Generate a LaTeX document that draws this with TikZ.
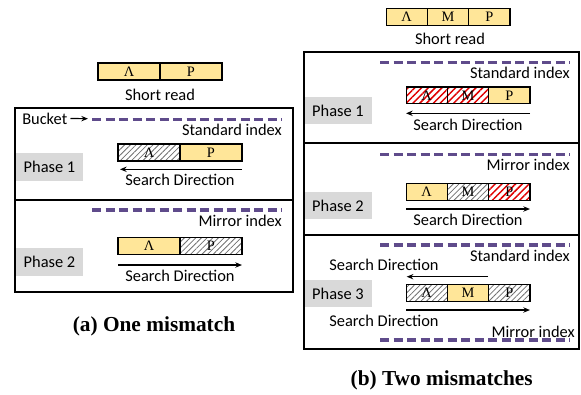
\documentclass[tikz,border=0pt]{standalone}
\usepackage{fontspec}
\setmainfont{Liberation Serif}
\newfontfamily\calib{Carlito}
\usetikzlibrary{patterns.meta,arrows.meta}
\definecolor{cellyellow}{HTML}{FFE699}
\definecolor{dashpurple}{HTML}{5F4B8B}
\definecolor{labelgray}{HTML}{D9D9D9}
\definecolor{hatchgray}{HTML}{707070}
\definecolor{hatchred}{HTML}{E00000}
\begin{document}
\begin{tikzpicture}[x=0.75pt,y=-0.75pt,
  txt/.style={font=\calib\fontsize{12.3}{14}\selectfont, inner sep=0},
  lcell/.style={draw, line width=0.8pt, minimum width=46.5pt, minimum height=12.75pt, inner sep=0, font=\fontsize{10.8}{12}\selectfont},
  rcell/.style={draw, line width=0.8pt, minimum width=31pt, minimum height=12.5pt, inner sep=0, font=\fontsize{10.8}{12}\selectfont},
  ok/.style={fill=cellyellow},
  gh/.style={pattern={Lines[angle=45,distance=3pt,line width=0.6pt]}, pattern color=hatchgray},
  rh/.style={pattern={Lines[angle=45,distance=3.6pt,line width=1.1pt]}, pattern color=hatchred},
  phase/.style={fill=labelgray, minimum width=50.25pt, minimum height=20.5pt, inner sep=0, font=\calib\fontsize{12.3}{14}\selectfont},
  bucketline/.style={draw=dashpurple, line width=2.5pt, dash pattern=on 6.75pt off 3.4pt},
  search/.style={-{Stealth[length=5pt,width=4pt]}, line width=0.9pt},
  frame/.style={line width=1.1pt},
  caption/.style={font=\bfseries\fontsize{16}{18}\selectfont, inner sep=0}]
\useasboundingbox (0,0) rectangle (581,394);

% ---------------- (a) One mismatch ----------------
\node[lcell, ok] (aS1) at (129,71.5) {Λ};
\node[lcell, ok] (aS2) at (191,71.5) {P};
\node[txt] (aSR) at (160,94.5) {Short read};

% Phase 1
\node[phase] (aP1) at (49.5,167) {Phase 1};
\node[txt, anchor=west] (aBucket) at (22,118.5) {Bucket};
\coordinate (aB1s) at (92,119.3);
\coordinate (aB1e) at (282,119.3);
\coordinate (aBa) at (88,118.7);
\draw[search] (aBucket.east) ++(3,0) -- (aBa);
\draw[bucketline] (aB1s) -- (aB1e);
\node[txt, anchor=east] (aStd) at (282,129.5) {Standard index};
\node[lcell, gh] (a1c1) at (149,152.5) {Λ};
\node[lcell, ok] (a1c2) at (211,152.5) {P};
\coordinate (a1r) at (242,169.3);
\coordinate (a1l) at (120,169.3);
\draw[search] (a1r) -- (a1l);
\node[txt] (a1sd) at (180,180) {Search Direction};

% Phase 2
\node[phase] (aP2) at (49.5,262) {Phase 2};
\coordinate (aB2s) at (92,210);
\coordinate (aB2e) at (282,210);
\draw[bucketline] (aB2s) -- (aB2e);
\node[txt, anchor=east] (aMir) at (282,221) {Mirror index};
\node[lcell, ok] (a2c1) at (149,245.8) {Λ};
\node[lcell, gh] (a2c2) at (211,245.8) {P};
\coordinate (a2l) at (118,265);
\coordinate (a2r) at (242,265);
\draw[search] (a2l) -- (a2r);
\node[txt] (a2sd) at (180,275.7) {Search Direction};

\draw[frame] (15,108) rectangle (293,292);
\draw[frame] (15,200) -- (293,200);
\node[caption] (capa) at (154,326.7) {(a) One mismatch};

% ---------------- (b) Two mismatches ----------------
\node[rcell, ok] (bS1) at (406.7,16.7) {Λ};
\node[rcell, ok] (bS2) at (448,16.7) {M};
\node[rcell, ok] (bS3) at (489.3,16.7) {P};
\node[txt] (bSR) at (450,39.3) {Short read};

% Phase 1
\node[phase] (bP1) at (338,110.7) {Phase 1};
\coordinate (bB1s) at (380,62.7);
\coordinate (bB1e) at (570,62.7);
\draw[bucketline] (bB1s) -- (bB1e);
\node[txt, anchor=east] (bStd1) at (570,72.7) {Standard index};
\node[rcell, rh] (b1c1) at (426.7,95.3) {Λ};
\node[rcell, rh] (b1c2) at (468,95.3) {M};
\node[rcell, ok] (b1c3) at (509.3,95.3) {P};
\coordinate (b1r) at (530,113.3);
\coordinate (b1l) at (406,113.3);
\draw[search] (b1r) -- (b1l);
\node[txt] (b1sd) at (468,125) {Search Direction};

% Phase 2
\node[phase] (bP2) at (338,205.8) {Phase 2};
\coordinate (bB2s) at (380,154.3);
\coordinate (bB2e) at (570,154.3);
\draw[bucketline] (bB2s) -- (bB2e);
\node[txt, anchor=east] (bMir2) at (570,165) {Mirror index};
\node[rcell, ok] (b2c1) at (426.7,191.7) {Λ};
\node[rcell, gh] (b2c2) at (468,191.7) {M};
\node[rcell, rh] (b2c3) at (509.3,191.7) {P};
\coordinate (b2l) at (406,209);
\coordinate (b2r) at (530,209);
\draw[search] (b2l) -- (b2r);
\node[txt] (b2sd) at (468,220) {Search Direction};

% Phase 3
\node[phase] (bP3) at (338,293.7) {Phase 3};
\coordinate (bB3s) at (380,245);
\coordinate (bB3e) at (570,245);
\draw[bucketline] (bB3s) -- (bB3e);
\node[txt, anchor=east] (bStd3) at (570,256) {Standard index};
\node[txt] (b3sdu) at (384,265) {Search Direction};
\coordinate (b3ur) at (488,276.7);
\coordinate (b3ul) at (406.7,276.7);
\draw[search] (b3ur) -- (b3ul);
\node[rcell, gh] (b3c1) at (426.7,292.7) {Λ};
\node[rcell, ok] (b3c2) at (468,292.7) {M};
\node[rcell, gh] (b3c3) at (509.3,292.7) {P};
\coordinate (b3ll) at (406,310);
\coordinate (b3lr) at (530,310);
\draw[search] (b3ll) -- (b3lr);
\node[txt] (b3sdl) at (384,320.7) {Search Direction};
\node[txt, anchor=east] (bMir3) at (575,331.7) {Mirror index};
\coordinate (bB4s) at (380,340);
\coordinate (bB4e) at (570,340);
\draw[bucketline] (bB4s) -- (bB4e);

\draw[frame] (304,52) rectangle (579,349);
\draw[frame] (304,143) -- (579,143);
\draw[frame] (304,235) -- (579,235);
\node[caption] (capb) at (441.7,380) {(b) Two mismatches};
\end{tikzpicture}
\end{document}
